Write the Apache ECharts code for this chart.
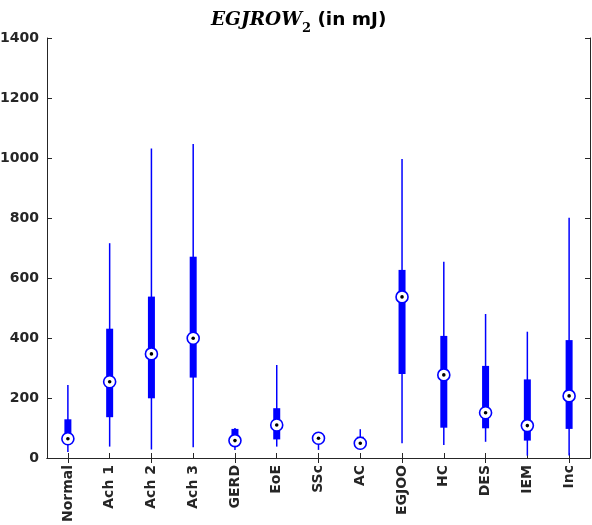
<!DOCTYPE html>
<html>
<head>
<meta charset="utf-8">
<title>EGJROW2</title>
<script src="https://cdn.jsdelivr.net/npm/echarts@6/dist/echarts.min.js"></script>
<style>
  html, body { margin: 0; padding: 0; background: #fff; }
  #chart { width: 592px; height: 525px; }
</style>
</head>
<body>
<div id="chart"></div>
<script>
// Compact box plot of EGJROW2 energy (mJ) per diagnosis group
const categories = ['Normal', 'Ach 1', 'Ach 2', 'Ach 3', 'GERD', 'EoE', 'SSc', 'AC', 'EGJOO', 'HC', 'DES', 'IEM', 'Inc'];
const whiskerLow  = [20, 38, 28, 36, 27, 38, 27, 32, 49, 43, 54, 8, 8];
const quartile1   = [48, 136, 199, 268, 45, 62, 55, 40, 280, 101, 99, 58, 97];
const medians     = [64, 254, 347, 399, 58, 110, 66, 49, 537, 277, 151, 108, 207];
const quartile3   = [129, 431, 538, 671, 97, 166, 72, 71, 627, 407, 307, 262, 393];
const whiskerHigh = [243, 716, 1032, 1047, 100, 310, 72, 96, 997, 654, 480, 421, 801];
const yTicks = { min: 0, max: 1400, interval: 200 };

const BLUE = '#0000ff';
const INK = '#262626';
const FONT = 'DejaVu Sans';

const boxData = categories.map((c, i) => [i, whiskerLow[i], quartile1[i], medians[i], quartile3[i], whiskerHigh[i]]);

function renderBox(params, api) {
  const i = api.value(0);
  const lo = api.coord([i, api.value(1)]);
  const q1 = api.coord([i, api.value(2)]);
  const md = api.coord([i, api.value(3)]);
  const q3 = api.coord([i, api.value(4)]);
  const hi = api.coord([i, api.value(5)]);
  const boxW = 7;
  return {
    type: 'group',
    children: [
      { type: 'line', shape: { x1: lo[0], y1: lo[1], x2: hi[0], y2: hi[1] },
        style: { stroke: BLUE, lineWidth: 1.5 } },
      { type: 'rect', shape: { x: q1[0] - boxW / 2, y: q3[1], width: boxW, height: q1[1] - q3[1] },
        style: { fill: BLUE } },
      { type: 'circle', shape: { cx: md[0], cy: md[1], r: 6 },
        style: { fill: '#ffffff', stroke: BLUE, lineWidth: 1.6 } },
      { type: 'circle', shape: { cx: md[0], cy: md[1], r: 1.8 },
        style: { fill: '#000000' } }
    ]
  };
}

const tickStyle = { show: true, inside: true, length: 5, lineStyle: { color: INK, width: 1 } };
const lineStyle = { show: true, lineStyle: { color: INK, width: 1 } };

const chart = echarts.init(document.getElementById('chart'), null, { renderer: 'canvas' });
chart.setOption({
  animation: false,
  backgroundColor: '#ffffff',
  title: {
    text: '{a|EGJROW}{s|2}{b| (in mJ)}',
    left: 206,
    top: 3,
    textStyle: {
      rich: {
        a: { fontFamily: 'DejaVu Serif', fontStyle: 'italic', fontWeight: 'bold', fontSize: 18.5, color: '#000', lineHeight: 24, verticalAlign: 'middle' },
        s: { fontFamily: 'DejaVu Serif', fontWeight: 'bold', fontSize: 13, color: '#000', lineHeight: 13, verticalAlign: 'bottom', padding: [0, 0, -3, 0] },
        b: { fontFamily: FONT, fontWeight: 'bold', fontSize: 18.5, color: '#000', lineHeight: 24, verticalAlign: 'middle' }
      }
    }
  },
  grid: { left: 47, right: 2, top: 38, bottom: 67, containLabel: false, outerBoundsMode: 'none' },
  xAxis: [
    {
      type: 'category', data: categories, position: 'bottom', boundaryGap: true,
      axisLine: lineStyle, axisTick: Object.assign({ alignWithLabel: true }, tickStyle),
      axisLabel: { rotate: 90, margin: 7, color: INK, fontFamily: FONT, fontWeight: 'bold', fontSize: 14 },
      splitLine: { show: false }
    },
    {
      type: 'category', data: categories, position: 'top', boundaryGap: true,
      axisLine: lineStyle, axisTick: Object.assign({ alignWithLabel: true }, tickStyle),
      axisLabel: { show: false }, splitLine: { show: false }
    }
  ],
  yAxis: [
    {
      type: 'value', position: 'left', min: yTicks.min, max: yTicks.max, interval: yTicks.interval,
      axisLine: lineStyle, axisTick: tickStyle,
      axisLabel: { margin: 8, color: INK, fontFamily: FONT, fontWeight: 'bold', fontSize: 14, formatter: v => String(v) },
      splitLine: { show: false }
    },
    {
      type: 'value', position: 'right', min: yTicks.min, max: yTicks.max, interval: yTicks.interval,
      axisLine: lineStyle, axisTick: tickStyle,
      axisLabel: { show: false }, splitLine: { show: false }
    }
  ],
  series: [{
    type: 'custom',
    xAxisIndex: 0,
    yAxisIndex: 0,
    renderItem: renderBox,
    encode: { x: 0, y: [1, 2, 3, 4, 5] },
    data: boxData,
    clip: false
  }]
});
</script>
</body>
</html>
